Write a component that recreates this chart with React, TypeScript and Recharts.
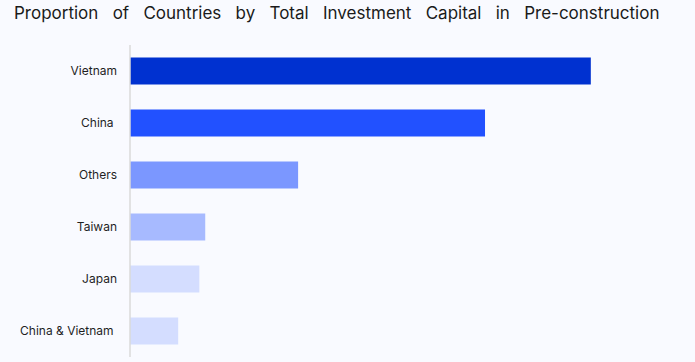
import { BarChart, Bar, XAxis, YAxis, Cell } from "recharts";

const countries = ["Vietnam", "China\u00a0", "Others", "Taiwan", "Japan", "China & Vietnam\u00a0"];
const shares = [39.2, 30.2, 14.3, 6.4, 5.9, 4.1];
const barColors = ["#0031d0", "#2251ff", "#7b97ff", "#a7baff", "#d4ddff", "#d4ddff"];

const data = countries.map((name, i) => ({ name, value: shares[i] }));

export default function App() {
  return (
    <div
      style={{
        position: "absolute",
        left: 0,
        top: 0,
        width: 695,
        height: 362,
        background: "#f9faff",
        fontFamily: "Inter, sans-serif",
      }}
    >
      <div
        style={{
          position: "absolute",
          left: 14,
          top: 3,
          fontSize: 17,
          color: "#1a1a1a",
          wordSpacing: 9.5,
          whiteSpace: "nowrap",
        }}
      >
        Proportion of Countries by Total Investment Capital in Pre-construction
      </div>
      <BarChart
        width={695}
        height={362}
        data={data}
        layout="vertical"
        margin={{ top: 45, right: 36, bottom: 5, left: 0 }}
        barCategoryGap="24%"
      >
        <XAxis type="number" domain={[0, 45]} hide />
        <YAxis
          dataKey="name"
          type="category"
          width={130}
          axisLine={{ stroke: "#dadada", strokeWidth: 1.5 }}
          tickLine={false}
          tickSize={0}
          tickMargin={13}
          tick={{ fill: "#1f1f1f", fontSize: 12, fontFamily: "Inter, sans-serif" }}
        />
        <Bar dataKey="value" isAnimationActive={false}>
          {data.map((d, i) => (
            <Cell key={d.name} fill={barColors[i]} />
          ))}
        </Bar>
      </BarChart>
    </div>
  );
}
